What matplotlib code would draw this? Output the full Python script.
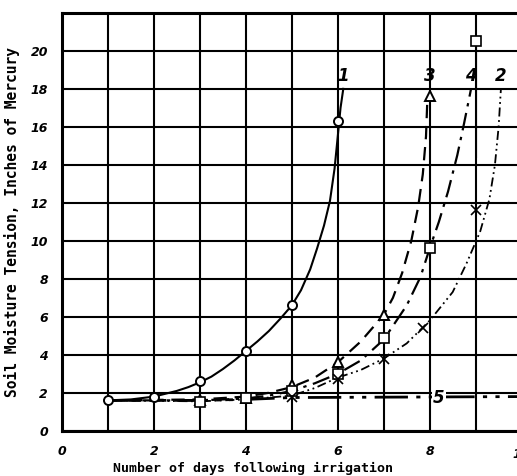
import matplotlib.pyplot as plt
import numpy as np

# curve paths (days, inches of mercury)
c1_x = [1, 1.5, 2, 2.5, 2.75, 3, 3.25, 3.5, 3.75, 4, 4.25, 4.5, 4.75, 5,
        5.2, 5.4, 5.55, 5.7, 5.83, 5.93, 6.0, 6.06, 6.12]
c1_y = [1.6, 1.65, 1.8, 2.1, 2.3, 2.55, 2.85, 3.25, 3.7, 4.2, 4.7, 5.25, 5.9, 6.6,
        7.4, 8.5, 9.6, 10.8, 12.1, 13.8, 15.5, 17.0, 18.0]
c3_x = [1, 3, 4, 4.5, 5, 5.5, 6, 6.5, 7, 7.2, 7.4, 7.6, 7.75, 7.85, 7.92, 7.95]
c3_y = [1.6, 1.65, 1.8, 2.0, 2.3, 2.8, 3.6, 4.7, 6.1, 7.0, 8.3, 10.0, 11.8, 13.5, 15.5, 17.5]
c4_x = [1, 3, 4, 4.5, 5, 5.5, 6, 6.5, 7, 7.5, 7.8, 8, 8.2, 8.4, 8.6, 8.75, 8.9]
c4_y = [1.6, 1.6, 1.7, 1.85, 2.1, 2.5, 3.0, 3.7, 4.8, 6.6, 8.1, 9.6, 11.0, 12.6, 14.5, 16.2, 18.0]
c2_x = [1, 3, 4, 5, 5.5, 6, 6.5, 7, 7.5, 8, 8.5, 8.8, 9.1, 9.3, 9.42, 9.5, 9.55]
c2_y = [1.6, 1.55, 1.65, 1.85, 2.25, 2.8, 3.2, 3.8, 4.6, 5.8, 7.3, 8.8, 10.5, 12.2, 14.0, 16.0, 18.0]
c5_x = [1, 3, 4, 5, 10]
c5_y = [1.6, 1.6, 1.65, 1.75, 1.8]

# measured points
p1_x = [1, 2, 3, 4, 5, 6]
p1_y = [1.6, 1.8, 2.6, 4.2, 6.6, 16.3]
p3_x = [3, 4, 5, 6, 7, 8]
p3_y = [1.6, 1.7, 2.4, 3.6, 6.1, 17.6]
p4_x = [3, 4, 5, 6, 7, 8, 9]
p4_y = [1.5, 1.7, 2.1, 3.0, 4.9, 9.6, 20.5]
p2_x = [5, 6, 7, 7.85, 9]
p2_y = [1.8, 2.7, 3.8, 5.4, 11.6]

x_ticks = [0, 2, 4, 6, 8]
y_ticks = [0, 2, 4, 6, 8, 10, 12, 14, 16, 18, 20]

fig = plt.figure(figsize=(5.17, 4.76), dpi=100)
ax = fig.add_axes([0.12, 0.095, 0.88, 0.878])
ax.set_xlim(0, 9.9)
ax.set_ylim(0, 22)

# heavy grid
for d in range(0, 10):
    ax.axvline(d, color='black', lw=1.5, zorder=1)
for v in range(0, 23, 2):
    ax.axhline(v, color='black', lw=1.5, zorder=1)

ink = 'black'
ax.plot(c1_x, c1_y, color=ink, lw=1.5, ls='-', zorder=3)
ax.plot(c3_x, c3_y, color=ink, lw=1.6, ls=(0, (6, 3.5)), zorder=3)
ax.plot(c4_x, c4_y, color=ink, lw=1.6, ls=(0, (8, 3, 1.5, 3)), zorder=3)
ax.plot(c2_x, c2_y, color=ink, lw=1.3, ls=(0, (5, 2, 1, 2, 1, 2)), zorder=3)
ax.plot(c5_x, c5_y, color=ink, lw=2.0, ls=(0, (12, 3, 1.5, 3, 1.5, 3)), zorder=3)
ax.plot([9, 9], [20.5, 14.4], color=ink, lw=0.8, zorder=3)

ax.plot(p1_x, p1_y, 'o', ms=6.5, mfc='white', mec=ink, mew=1.4, ls='none', zorder=4)
ax.plot(p3_x, p3_y, '^', ms=7.5, mfc='white', mec=ink, mew=1.4, ls='none', zorder=4)
ax.plot(p4_x, p4_y, 's', ms=6.5, mfc='white', mec=ink, mew=1.2, ls='none', zorder=4)
ax.plot(p2_x, p2_y, 'x', ms=7, mec=ink, mew=1.2, ls='none', zorder=4)

# curve numbers
lab = dict(fontsize=12, fontweight='bold', fontstyle='italic', ha='center', va='bottom', zorder=5)
ax.text(6.12, 18.2, '1', **lab)
ax.text(8.0, 18.2, '3', **lab)
ax.text(8.9, 18.2, '4', **lab)
ax.text(9.55, 18.2, '2', **lab)
ax.text(8.2, 1.75, '5', fontsize=12, fontweight='bold', fontstyle='italic',
        ha='center', va='center', zorder=5,
        bbox=dict(facecolor='white', edgecolor='none', pad=1))

for s in ['left', 'bottom', 'top']:
    ax.spines[s].set_linewidth(2.2)
ax.spines['right'].set_visible(False)

ax.set_xticks(x_ticks)
ax.set_yticks(y_ticks)
ax.tick_params(length=0, pad=10, labelsize=9)
for t in ax.get_xticklabels() + ax.get_yticklabels():
    t.set_fontweight('bold')
    t.set_fontstyle('italic')
ax.text(10, -0.9, '10', fontsize=9, fontweight='bold', fontstyle='italic',
        ha='center', va='top', clip_on=False)

ax.set_ylabel('Soil Moisture Tension, Inches of Mercury', family='DejaVu Sans Mono',
              fontweight='bold', fontsize=10.5, labelpad=8)
ax.set_xlabel('Number of days following irrigation', family='DejaVu Sans Mono',
              fontweight='bold', fontsize=9.5)
ax.xaxis.set_label_coords(0.42, -0.075)

fig.savefig('out.png', dpi=100)
